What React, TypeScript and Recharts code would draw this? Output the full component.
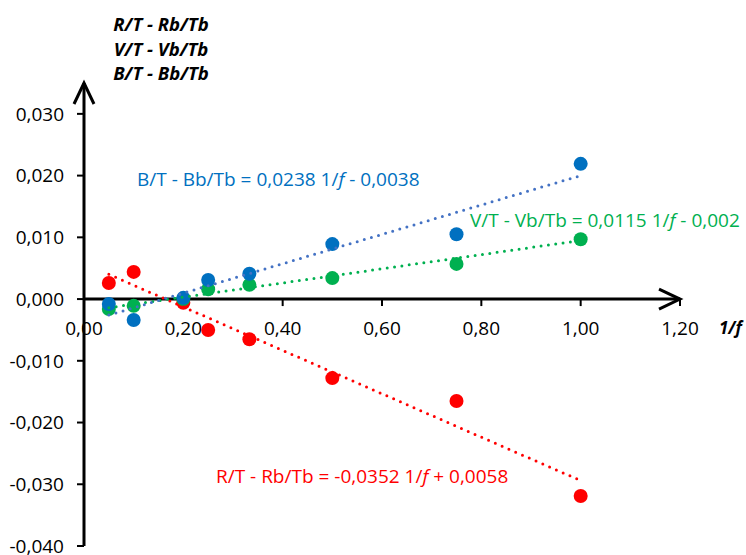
import React from 'react';
import { ScatterChart, Scatter, XAxis, YAxis, ReferenceLine, ReferenceDot } from 'recharts';

const xValues = [0.05, 0.1, 0.2, 0.25, 0.333, 0.5, 0.75, 1.0];
const redValues = [0.0026, 0.0044, -0.0006, -0.005, -0.0065, -0.0128, -0.0165, -0.0319];
const greenValues = [-0.0016, -0.0011, 0.0, 0.0016, 0.0023, 0.0034, 0.0057, 0.0097];
const blueValues = [-0.0008, -0.0034, 0.0002, 0.0031, 0.0041, 0.0089, 0.0105, 0.0219];

const redTrend = [{ x: 0.05, y: 0.004 }, { x: 1.0, y: -0.0294 }];
const greenTrend = [{ x: 0.05, y: -0.0014 }, { x: 1.0, y: 0.0095 }];
const blueTrend = [{ x: 0.05, y: -0.0026 }, { x: 1.0, y: 0.02 }];

const xTicks = [0, 0.2, 0.4, 0.6, 0.8, 1.0, 1.2];
const yTicks = [-0.04, -0.03, -0.02, -0.01, 0, 0.01, 0.02, 0.03];
const titleLines = ['R/T - Rb/Tb', 'V/T - Vb/Tb', 'B/T - Bb/Tb'];

const RED = '#FF0000';
const GREEN = '#00B050';
const BLUE = '#0070C0';
const BLUE_LINE = '#4472C4';
const FONT = '"Open Sans", sans-serif';
const FS = 19;

const toPoints = (ys: number[]) => xValues.map((x, i) => ({ x, y: ys[i] }));
const fmtY = (v: number) => v.toFixed(3).replace('.', ',');
const fmtX = (v: number) => v.toFixed(2).replace('.', ',');

const dot = (color: string) => (p: any) => <circle cx={p.cx} cy={p.cy} r={7} fill={color} />;
const noDot = () => <g />;
const trendStyle = (color: string) => ({
  stroke: color,
  strokeWidth: 3,
  strokeDasharray: '0 7.4',
  strokeLinecap: 'round' as const,
});

const xTickShape = (v: number) => (p: any) => (
  <g>
    {v > 0 && <line x1={p.cx} y1={p.cy} x2={p.cx} y2={p.cy + 7} stroke="#000" strokeWidth={2} />}
    <text x={p.cx} y={p.cy + 36} textAnchor="middle" fontSize={FS} fontFamily={FONT} fill="#000">
      {fmtX(v)}
    </text>
  </g>
);

const xArrow = (p: any) => (
  <polyline
    points={`${p.cx - 21},${p.cy - 10} ${p.cx},${p.cy} ${p.cx - 21},${p.cy + 10}`}
    fill="none"
    stroke="#000"
    strokeWidth={3}
  />
);
const yArrow = (p: any) => (
  <polyline
    points={`${p.cx - 10},${p.cy + 21} ${p.cx},${p.cy} ${p.cx + 10},${p.cy + 21}`}
    fill="none"
    stroke="#000"
    strokeWidth={3}
  />
);

const Eq = ({ x, y, color, pre, post }: any) => (
  <text x={x} y={y} fill={color} fontSize={FS} fontFamily={FONT}>
    {pre}
    <tspan fontStyle="italic">f</tspan>
    {post}
  </text>
);

export default function App() {
  return (
    <div style={{ position: 'absolute', left: 0, top: 0, width: 746, height: 555, background: '#fff' }}>
      <ScatterChart width={746} height={555} margin={{ top: 83, right: 66, bottom: 9, left: 24 }}>
        <XAxis type="number" dataKey="x" domain={[0, 1.2]} ticks={xTicks} hide allowDataOverflow />
        <YAxis
          type="number"
          dataKey="y"
          domain={[-0.04, 0.035]}
          ticks={yTicks}
          interval={0}
          allowDataOverflow
          width={60}
          tickFormatter={fmtY}
          axisLine={{ stroke: '#000', strokeWidth: 3 }}
          tickLine={{ stroke: '#000', strokeWidth: 2 }}
          tickSize={7}
          tickMargin={13}
          tick={{ fill: '#000', fontSize: FS, fontFamily: FONT }}
        />
        <ReferenceLine y={0} stroke="#000" strokeWidth={3} ifOverflow="visible" />
        {xTicks.map((v) => (
          <ReferenceDot key={v} x={v} y={0} r={0} ifOverflow="visible" shape={xTickShape(v)} />
        ))}
        <ReferenceDot x={1.2} y={0} r={0} ifOverflow="visible" shape={xArrow} />
        <ReferenceDot x={0} y={0.035} r={0} ifOverflow="visible" shape={yArrow} />
        <Scatter data={toPoints(redValues)} shape={dot(RED)} isAnimationActive={false} />
        <Scatter data={toPoints(greenValues)} shape={dot(GREEN)} isAnimationActive={false} />
        <Scatter data={toPoints(blueValues)} shape={dot(BLUE)} isAnimationActive={false} />
        <Scatter data={redTrend} shape={noDot} line={trendStyle(RED)} isAnimationActive={false} />
        <Scatter data={greenTrend} shape={noDot} line={trendStyle(GREEN)} isAnimationActive={false} />
        <Scatter data={blueTrend} shape={noDot} line={trendStyle(BLUE_LINE)} isAnimationActive={false} />
      </ScatterChart>
      <svg
        width={746}
        height={555}
        style={{ position: 'absolute', left: 0, top: 0, pointerEvents: 'none' }}
      >
        {titleLines.map((t, i) => (
          <text
            key={t}
            x={161}
            y={31 + i * 24.5}
            textAnchor="middle"
            fontSize={18.5}
            fontWeight="bold"
            fontStyle="italic"
            fontFamily={FONT}
            fill="#000"
          >
            {t}
          </text>
        ))}
        <text x={719} y={334} fontSize={17} fontWeight="bold" fontStyle="italic" fontFamily={FONT} fill="#000">
          1/f
        </text>
        <Eq x={137} y={186} color={BLUE} pre="B/T - Bb/Tb = 0,0238 1/" post=" - 0,0038" />
        <Eq x={470} y={227} color={GREEN} pre="V/T - Vb/Tb = 0,0115 1/" post=" - 0,002" />
        <Eq x={216} y={483} color={RED} pre="R/T - Rb/Tb = -0,0352 1/" post=" + 0,0058" />
      </svg>
    </div>
  );
}
